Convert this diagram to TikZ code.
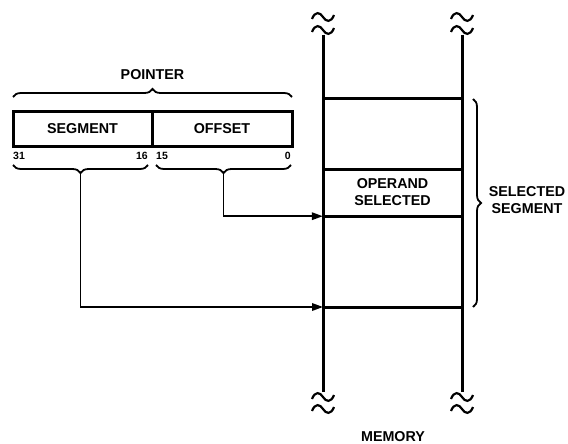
\documentclass[tikz,border=0pt]{standalone}
\usepackage{fontspec}
\setmainfont{Liberation Sans}
\usetikzlibrary{decorations.pathreplacing,arrows.meta}
\begin{document}
\begin{tikzpicture}[x=1pt,y=-1pt,
  lbl/.style={font=\bfseries\fontsize{14.3}{17}\selectfont, align=center, inner sep=0pt},
  bits/.style={font=\bfseries\fontsize{10.5}{12}\selectfont, inner sep=0pt},
  field/.style={draw, line width=3pt, minimum height=35pt, inner sep=0pt, font=\bfseries\fontsize{14.3}{17}\selectfont},
  memwall/.style={line width=3pt},
  memrow/.style={line width=3pt},
  bracestyle/.style={line width=1.8pt, decorate, decoration={brace, amplitude=8pt}},
  conn/.style={line width=1.8pt, -{Triangle[length=11pt,width=7.5pt]}},
  squig/.style={line width=2.2pt}]
\useasboundingbox (0,0) rectangle (568,444);

% pointer
\node[field, minimum width=139pt] (seg) at (82.5,128.5) {SEGMENT};
\node[field, minimum width=140pt] (off) at (222,128.5) {OFFSET};
\node[lbl] (ptr) at (152.5,75) {POINTER};
\draw[bracestyle] (13,97) -- (292,97);

\node[bits, anchor=west] (b31) at (13,156) {31};
\node[bits, anchor=east] (b16) at (148,156) {16};
\node[bits, anchor=west] (b15) at (156,156) {15};
\node[bits, anchor=east] (b0) at (291,156) {0};

\draw[bracestyle] (148,165) -- (13,165);
\draw[bracestyle] (291,165) -- (156,165);
\coordinate (segtip) at (80.5,173);
\coordinate (offtip) at (223.5,173);

% memory
\coordinate (Ltop) at (323,35);
\coordinate (Lbot) at (323,392);
\coordinate (Rtop) at (462,35);
\coordinate (Rbot) at (462,392);
\draw[memwall] (Ltop) -- (Lbot);
\draw[memwall] (Rtop) -- (Rbot);
\draw[memrow] (323,99) -- (462,99);
\draw[memrow] (323,169) -- (462,169);
\draw[memrow] (323,216) -- (462,216);
\draw[memrow] (323,307) -- (462,307);
\node[lbl, minimum width=139pt, minimum height=47pt] (operand) at (392.5,192.5) {OPERAND\\SELECTED};
\coordinate (segbase) at (323,307);

% squiggles
\foreach \x in {323,462}{
  \foreach \y in {17,30,397,409}{
    \draw[squig] (\x-11,\y+2) .. controls (\x-8,\y-6) and (\x-3,\y-5) .. (\x,\y) .. controls (\x+3,\y+5) and (\x+8,\y+6) .. (\x+11,\y-2);
  }
}

\draw[bracestyle] (473,99) -- (473,307);
\node[lbl] (selseg) at (527,200) {SELECTED\\SEGMENT};
\node[lbl] (mem) at (393,437) {MEMORY};

% connectors
\draw[conn] (offtip) |- (operand.south west);
\draw[conn] (segtip) |- (segbase);
\end{tikzpicture}
\end{document}
